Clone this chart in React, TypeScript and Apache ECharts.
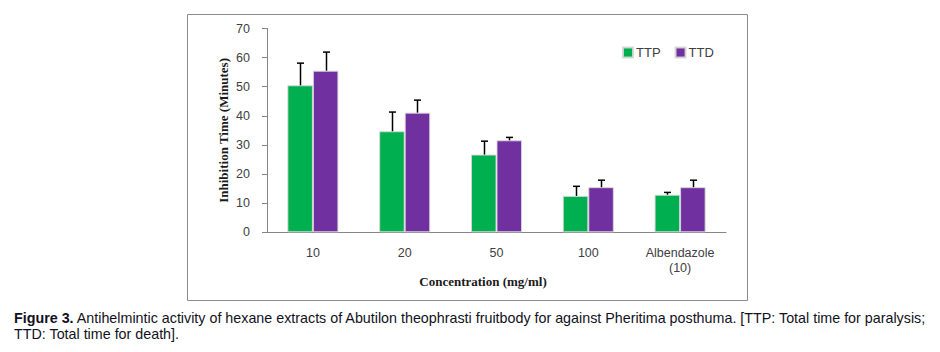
import React, { useEffect, useRef } from "react";
import * as echarts from "echarts";

const categories = ["10", "20", "50", "100", "Albendazole\n(10)"];
const seriesNames = ["TTP", "TTD"];
const ttpValues = [50.5, 34.7, 26.7, 12.5, 12.9];
const ttdValues = [55.5, 41.1, 31.6, 15.5, 15.5];
const ttpErrors = [7.6, 6.6, 4.6, 3.3, 0.8];
const ttdErrors = [6.4, 4.3, 1.0, 2.4, 2.4];
const yTicks = { min: 0, max: 70, interval: 10 };
const xTitle = "Concentration (mg/ml)";
const yTitle = "Inhibition Time (Minutes)";
const captionBold = "Figure 3.";
const captionLine1 =
  " Antihelmintic activity of hexane extracts of Abutilon theophrasti fruitbody for against Pheritima posthuma. [TTP: Total time for paralysis;";
const captionLine2 = "TTD: Total time for death].";

const GREEN = "#00AF50";
const PURPLE = "#7030A0";
const CAT_GAP = 0.444;

function errorSeries(values: number[], errors: number[], offset: number) {
  return {
    type: "custom",
    z: 5,
    silent: true,
    encode: { x: 0, y: 1 },
    data: values.map((v, i) => [i, v, errors[i]]),
    renderItem: (params: any, api: any) => {
      const idx = api.value(0);
      const v = api.value(1);
      const e = api.value(2);
      const base = api.coord([idx, v]);
      const top = api.coord([idx, v + e]);
      const band = api.size([1, 0])[0];
      const bw = (band * (1 - CAT_GAP)) / 2;
      const x = Math.round(base[0] + (offset * bw) / 2) + 0.5;
      const style = { stroke: "#000", lineWidth: 1.5 };
      return {
        type: "group",
        children: [
          { type: "line", shape: { x1: x, y1: base[1], x2: x, y2: top[1] }, style },
          { type: "line", shape: { x1: x - 3.5, y1: top[1], x2: x + 3.5, y2: top[1] }, style },
        ],
      };
    },
  };
}

export default function App() {
  const ref = useRef<HTMLDivElement>(null);
  useEffect(() => {
    if (!ref.current) return;
    const chart = echarts.init(ref.current, null, { renderer: "svg" });
    chart.setOption({
      animation: false,
      backgroundColor: "#fff",
      grid: { left: 267, right: 214, top: 28.5, bottom: 119.7, containLabel: false },
      legend: {
        data: seriesNames,
        left: 622,
        top: 46,
        padding: 0,
        icon: "rect",
        itemWidth: 10,
        itemHeight: 10,
        itemGap: 14,
        textStyle: { fontFamily: "Liberation Sans", fontSize: 13, color: "#404040", padding: [0, 0, 0, -2] },
      },
      xAxis: {
        type: "category",
        data: categories,
        axisLine: { lineStyle: { color: "#868686", width: 1 } },
        axisTick: { show: false },
        axisLabel: {
          fontFamily: "Liberation Sans",
          fontSize: 12.5,
          color: "#404040",
          margin: 13,
          lineHeight: 15,
          interval: 0,
        },
      },
      yAxis: {
        type: "value",
        min: yTicks.min,
        max: yTicks.max,
        interval: yTicks.interval,
        name: yTitle,
        nameLocation: "middle",
        nameRotate: 90,
        nameGap: 37,
        nameTextStyle: { fontFamily: "Liberation Serif", fontWeight: "bold", fontSize: 13, color: "#1a1a1a" },
        axisLine: { show: true, lineStyle: { color: "#868686", width: 1 } },
        axisTick: { show: true, length: 5, lineStyle: { color: "#868686" } },
        splitLine: { show: false },
        axisLabel: { fontFamily: "Liberation Sans", fontSize: 12.5, color: "#404040", margin: 17 },
      },
      series: [
        {
          name: seriesNames[0],
          type: "bar",
          data: ttpValues,
          barGap: "0%",
          barCategoryGap: CAT_GAP * 100 + "%",
          itemStyle: { color: GREEN, borderColor: "rgba(215,215,215,0.9)", borderWidth: 1 },
        },
        {
          name: seriesNames[1],
          type: "bar",
          data: ttdValues,
          barGap: "0%",
          barCategoryGap: CAT_GAP * 100 + "%",
          itemStyle: { color: PURPLE, borderColor: "rgba(215,215,215,0.9)", borderWidth: 1 },
        },
        errorSeries(ttpValues, ttpErrors, -1),
        errorSeries(ttdValues, ttdErrors, 1),
      ],
      graphic: [
        {
          type: "rect",
          shape: { x: 187.5, y: 14.5, width: 560, height: 286 },
          style: { fill: "none", stroke: "#8c8c8c", lineWidth: 1 },
          silent: true,
        },
        {
          type: "text",
          x: 483,
          y: 281,
          style: {
            text: xTitle,
            fontFamily: "Liberation Serif",
            fontWeight: "bold",
            fontSize: 13,
            fill: "#1a1a1a",
            align: "center",
            verticalAlign: "middle",
          },
        },
        {
          type: "text",
          x: 14,
          y: 318,
          style: {
            text: "{b|" + captionBold + "}" + captionLine1,
            fontFamily: "Liberation Sans",
            fontSize: 14.3,
            fill: "#111122",
            verticalAlign: "middle",
            rich: { b: { fontWeight: "bold", fontFamily: "Liberation Sans", fontSize: 14.3, fill: "#111122" } },
          },
        },
        {
          type: "text",
          x: 14,
          y: 333.5,
          style: {
            text: captionLine2,
            fontFamily: "Liberation Sans",
            fontSize: 14.3,
            fill: "#111122",
            verticalAlign: "middle",
          },
        },
      ],
    });
    return () => chart.dispose();
  }, []);
  return (
    <div
      ref={ref}
      style={{ position: "absolute", left: 0, top: 0, width: 940, height: 352 }}
    />
  );
}
